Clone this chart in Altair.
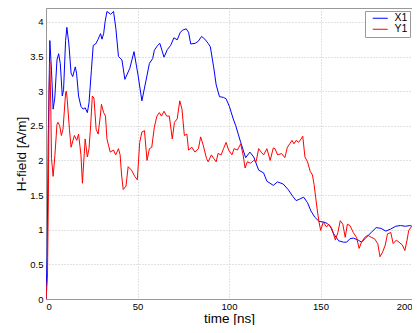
import altair as alt
import pandas as pd

# X1 (blue) trace: time [ns], H-field [A/m]
x1_t = [0, 0.6, 1.2, 2.1, 3.0, 3.9, 4.8, 6.0, 6.9, 7.8, 8.9, 9.6, 10.7, 11.4, 12.5, 13.7, 14.6, 16.0, 16.7, 17.8,
        19.1, 20.3, 21.4, 22.6, 23.5, 24.8, 25.8, 27.1, 28.5, 29.8, 30.6, 31.5, 32.3, 33.3, 35.3, 36.9, 38.2, 39.6,
        41.5, 43.1, 45.8, 48.1, 50.3, 52.4, 54.7, 56.5, 58.3, 59.2, 61.0, 62.2, 64.5, 66.3, 68.1, 69.9, 71.7, 73.4,
        74.7, 76.6, 77.9, 79.1, 81.5, 83.2, 85.0, 86.8, 88.6, 89.8, 91.6, 93.0, 94.8, 97.0, 98.4, 100.2, 102.3,
        103.7, 106.4, 109.1, 111.4, 113.5, 116.2, 118.9, 120.7, 124.2, 126.5, 129.6, 132.3, 134.9, 136.7, 138.5,
        140.8, 142.9, 144.8, 146.9, 149.2, 151.9, 153.7, 155.5, 157.2, 159.9, 162.6, 164.3, 166.1, 167.9, 170.6,
        172.4, 175.0, 177.7, 180.4, 183.0, 185.7, 188.4, 191.1, 193.7, 196.4, 198.8, 200.0]
x1_v = [0, 0.6, 2.3, 3.73, 3.30, 2.74, 2.90, 3.45, 3.54, 3.40, 2.93, 3.02, 3.73, 3.92, 3.68, 3.26, 3.21, 3.35, 3.26, 2.93,
        2.78, 2.74, 2.76, 2.69, 2.83, 3.30, 3.66, 3.68, 3.75, 3.83, 3.75, 3.83, 4.00, 4.15, 4.11, 4.15, 3.90, 3.50,
        3.45, 3.17, 3.33, 3.57, 3.23, 2.86, 3.16, 3.40, 3.47, 3.59, 3.66, 3.69, 3.49, 3.60, 3.66, 3.77, 3.74, 3.85,
        3.88, 3.90, 3.85, 3.68, 3.69, 3.72, 3.79, 3.75, 3.69, 3.64, 3.35, 3.09, 2.92, 2.91, 2.89, 2.78, 2.60,
        2.50, 2.26, 2.04, 2.12, 2.05, 1.86, 1.82, 1.70, 1.64, 1.69, 1.66, 1.58, 1.48, 1.42, 1.44,
        1.47, 1.39, 1.27, 1.18, 1.12, 1.11, 1.09, 1.04, 0.94, 0.84, 0.82, 0.82, 0.87, 0.88, 0.85,
        0.82, 0.89, 0.96, 1.03, 1.02, 0.98, 1.01, 1.05, 1.06, 1.05, 1.06, 1.05]

# Y1 (red) trace
y1_t = [0, 0.8, 1.3, 1.7, 2.1, 2.6, 3.0, 3.9, 4.8, 6.0, 6.5, 7.5, 8.4, 9.3, 10.7, 11.1, 11.6, 12.8, 13.7, 15.5, 16.8,
        17.8, 19.1, 19.9, 21.4, 22.6, 23.5, 24.4, 25.3, 26.2, 27.4, 28.5, 29.8, 30.3, 31.5, 32.5, 33.3, 35.1, 36.9,
        38.1, 39.6, 40.5, 41.3, 42.2, 43.7, 44.9, 46.7, 48.5, 49.9, 51.2, 52.4, 53.8, 55.2, 56.5, 57.8, 59.2, 60.6,
        61.9, 63.1, 64.5, 65.9, 67.4, 69.0, 70.2, 71.7, 73.1, 74.3, 75.6, 77.0, 77.9, 79.7, 81.4, 83.3, 84.5, 85.9,
        87.7, 88.6, 90.4, 91.6, 93.0, 94.0, 95.7, 97.0, 98.4, 99.8, 101.6, 102.8, 104.6, 106.4, 107.7, 108.8, 110.0,
        111.8, 113.5, 114.8, 116.2, 117.6, 118.9, 120.7, 122.5, 124.2, 125.1, 126.6, 128.7, 130.5, 131.9, 133.2,
        134.4, 135.5, 136.7, 138.0, 139.4, 140.3, 141.5, 142.9, 144.4, 145.6, 146.5, 147.4, 148.3, 149.2, 150.1,
        151.5, 153.3, 154.5, 156.3, 158.1, 159.5, 160.8, 162.2, 163.5, 164.7, 166.1, 167.9, 169.7, 171.1, 172.4,
        174.2, 175.9, 177.7, 179.5, 181.3, 182.5, 184.0, 185.4, 186.6, 188.4, 189.7, 191.4, 192.9, 194.7, 196.1,
        197.3, 198.2, 199.6]
y1_v = [0, 0.3, 1.5, 3.0, 3.42, 2.8, 2.03, 1.77, 2.05, 2.52, 2.55, 2.50, 2.36, 2.45, 2.97, 3.0, 2.88, 2.45, 2.19, 2.36, 2.29,
        2.38, 2.08, 1.67, 2.31, 2.05, 2.17, 2.50, 2.93, 2.90, 2.45, 2.38, 2.67, 2.81, 2.69, 2.64, 2.31, 2.12, 2.15,
        2.08, 2.17, 2.08, 1.79, 1.58, 1.63, 1.91, 1.86, 1.77, 1.72, 2.26, 2.41, 2.43, 2.00, 2.17, 2.19, 2.48, 2.64,
        2.69, 2.64, 2.71, 2.64, 2.64, 2.31, 2.55, 2.60, 2.86, 2.74, 2.36, 2.38, 2.15, 2.19, 2.12, 2.17, 2.34, 2.22,
        2.03, 1.98, 2.08, 2.03, 1.98, 2.10, 2.08, 2.17, 2.26, 2.15, 2.08, 2.17, 2.15, 2.24, 2.08, 1.89, 1.98,
        1.96, 2.00, 1.98, 2.17, 2.12, 2.08, 2.17, 2.00, 2.18, 2.17, 2.08, 2.10, 2.04, 2.19, 2.24,
        2.29, 2.24, 2.29, 2.26, 2.31, 2.35, 2.05, 1.98, 1.84, 1.79, 1.65, 1.46, 1.27, 1.11, 0.99,
        1.11, 1.04, 1.08, 1.01, 0.85, 0.96, 1.13, 1.08, 0.89, 1.08, 1.06, 0.96, 0.89, 0.73, 0.82,
        0.89, 0.92, 0.89, 0.87, 0.80, 0.61, 0.68, 0.78, 0.94, 0.96, 0.80, 0.85, 0.82, 0.78, 0.70,
        0.85, 0.99, 1.04]

series_names = ["X1", "Y1"]
series_colors = ["#0000ff", "#ff0000"]
x_ticks = [0, 50, 100, 150, 200]
y_ticks = [0, 0.5, 1, 1.5, 2, 2.5, 3, 3.5, 4]

df = pd.concat([
    pd.DataFrame({"t": x1_t, "h": x1_v, "s": "X1", "o": range(len(x1_t))}),
    pd.DataFrame({"t": y1_t, "h": y1_v, "s": "Y1", "o": range(len(y1_t))}),
])

FONT = "Liberation Sans"
GRID = dict(grid=True, gridColor="#c4c4c4", gridDash=[1, 2], gridWidth=1,
            domainColor="#999999", ticks=False, tickSize=0,
            labelFont=FONT, labelFontSize=9.5, labelColor="#000000",
            titleFont=FONT, titleFontSize=13.5, titleFontWeight="normal", titleColor="#000000")

chart = alt.Chart(df).mark_line(strokeWidth=1, clip=True).encode(
    x=alt.X("t:Q", scale=alt.Scale(domain=[0, 200], nice=False),
            axis=alt.Axis(values=x_ticks, title="time [ns]", labelPadding=2,
                          titleY=23, titleBaseline="alphabetic", **GRID)),
    y=alt.Y("h:Q", scale=alt.Scale(domain=[0, 4.2], nice=False),
            axis=alt.Axis(values=y_ticks, title="H-field [A/m]", labelPadding=3, format="~g",
                          titleX=-18, **GRID)),
    color=alt.Color("s:N", scale=alt.Scale(domain=series_names, range=series_colors),
                    legend=alt.Legend(title=None, orient="none", legendX=319, legendY=3,
                                      symbolType="M0.2,0H6.2", symbolSize=25, symbolStrokeWidth=1,
                                      labelFont=FONT, labelFontSize=10.5, labelOffset=17,
                                      labelColor="#000000",
                                      strokeColor="#999999", fillColor="#ffffff",
                                      padding=2, rowPadding=0)),
    order="o:Q",
).properties(
    width=366, height=291,
    autosize=alt.AutoSizeParams(type="none"),
    padding={"left": 38, "top": 0, "right": 0, "bottom": 26},
    background="#ffffff",
).configure_view(stroke="#999999", strokeWidth=1)

chart.save("out.html", embed_options={"renderer": "svg", "actions": False})
